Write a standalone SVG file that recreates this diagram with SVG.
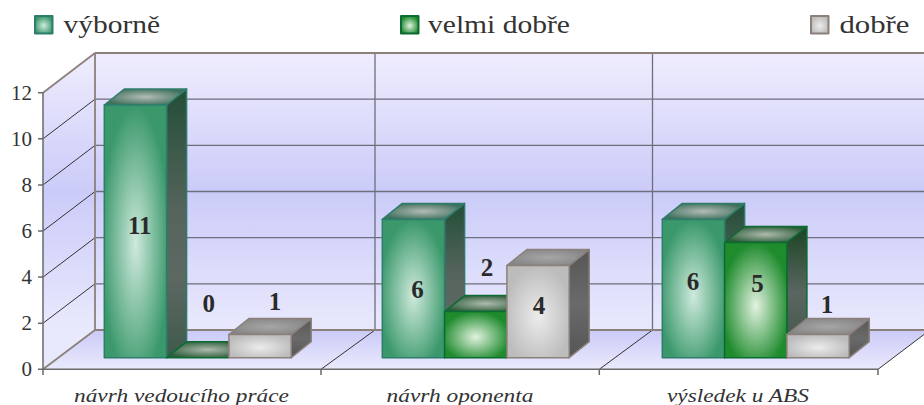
<svg xmlns="http://www.w3.org/2000/svg" width="924" height="405" viewBox="0 0 924 405">
<defs>
<linearGradient id="wallG" gradientUnits="userSpaceOnUse" x1="0" y1="53" x2="0" y2="330">
<stop offset="0" stop-color="#EFEDFD"/><stop offset="0.5" stop-color="#CBCBF9"/><stop offset="1" stop-color="#E9E9FD"/>
</linearGradient>
<linearGradient id="floorG" gradientUnits="userSpaceOnUse" x1="0" y1="330" x2="0" y2="369.3">
<stop offset="0" stop-color="#CACAF7"/><stop offset="1" stop-color="#EAEAFD"/>
</linearGradient>
<radialGradient id="g1F" cx="0.5" cy="0.55" r="0.55"><stop offset="0" stop-color="#CFEADD"/><stop offset="1" stop-color="#3A986B"/></radialGradient>
<radialGradient id="g1T" cx="0.5" cy="0.5" r="0.55"><stop offset="0" stop-color="#B4BCB6"/><stop offset="1" stop-color="#3E705C"/></radialGradient>
<linearGradient id="g1S" x1="0" y1="0" x2="0" y2="1"><stop offset="0" stop-color="#234E37"/><stop offset="0.45" stop-color="#55645C"/><stop offset="0.7" stop-color="#5C6862"/><stop offset="1" stop-color="#3F5A4C"/></linearGradient>
<radialGradient id="g2F" cx="0.5" cy="0.55" r="0.55"><stop offset="0" stop-color="#E2F2E0"/><stop offset="1" stop-color="#1E8B2D"/></radialGradient>
<radialGradient id="g2T" cx="0.5" cy="0.5" r="0.55"><stop offset="0" stop-color="#AEBAAE"/><stop offset="1" stop-color="#2D5E3A"/></radialGradient>
<linearGradient id="g2S" x1="0" y1="0" x2="0" y2="1"><stop offset="0" stop-color="#1B4424"/><stop offset="0.5" stop-color="#5A6660"/><stop offset="1" stop-color="#3E5646"/></linearGradient>
<radialGradient id="g3F" cx="0.5" cy="0.55" r="0.55"><stop offset="0" stop-color="#ECECEC"/><stop offset="1" stop-color="#BCBCBC"/></radialGradient>
<radialGradient id="g3T" cx="0.5" cy="0.5" r="0.55"><stop offset="0" stop-color="#A6A6A6"/><stop offset="1" stop-color="#868686"/></radialGradient>
<linearGradient id="g3S" x1="0" y1="0" x2="0" y2="1"><stop offset="0" stop-color="#575757"/><stop offset="0.5" stop-color="#6A6A6A"/><stop offset="1" stop-color="#555555"/></linearGradient>
</defs>
<style>
.edge{stroke:#8C807B;stroke-width:1.8;fill:none}
.grid{stroke:#6E6E7C;stroke-width:1.3;fill:none}
.diag{stroke:#333;stroke-width:1;fill:none}
.axis{stroke:#6A6A6A;stroke-width:1.5;fill:none}
.s1{stroke:#2E7D6C;stroke-width:1.5;stroke-linejoin:round}
.s2{stroke:#0C6A33;stroke-width:1.5;stroke-linejoin:round}
.s3{stroke:#8C807B;stroke-width:1.5;stroke-linejoin:round}
text{font-family:"Liberation Serif","DejaVu Serif","Times New Roman",serif}
.tick{font-size:21px;fill:#333;text-anchor:end}
.cat{font-style:italic;font-size:18px;fill:#333;text-anchor:middle}
.val{font-weight:bold;font-size:25px;fill:#2A2A2A;text-anchor:middle}
.leg{font-size:26px;fill:#333}
</style>
<rect width="924" height="405" fill="#FFFFFF"/>

<g id="walls">
<polygon points="43,92.7 95,53 95,330 43,369.3" fill="url(#wallG)"/>
<rect x="95" y="53" width="829" height="277" fill="url(#wallG)"/>
<polygon points="43,369.3 95,330 924,330 924,334.5 878,369.3" fill="url(#floorG)"/>
</g>

<g id="grid">
<path class="grid" d="M95,99.2H924M95,145.4H924M95,191.5H924M95,237.7H924M95,283.8H924M375,53V330M652.5,53V330"/>
<path class="diag" d="M43,138.8L95,99.2M43,184.9L95,145.4M43,231L95,191.5M43,277.1L95,237.7M43,323.2L95,283.8"/>
<path class="diag" d="M321,369.3L375,330M599.3,369.3L652.5,330M878,369.3L924,334.5"/>
<path class="edge" d="M95,53H924M95,53V330H924M43,92.7L95,53M43,369.3L95,330"/>
<path class="axis" d="M43,92.7V369.3H878M38,92.7H43M38,138.8H43M38,184.9H43M38,231H43M38,277.1H43M38,323.2H43M38,369.3H43M43,369.3V375M321,369.3V375M599.3,369.3V375M878,369.3V375"/>
</g>

<g id="yaxis-labels">
<text class="tick" x="32" y="99.7">12</text>
<text class="tick" x="32" y="145.8">10</text>
<text class="tick" x="32" y="191.9">8</text>
<text class="tick" x="32" y="238">6</text>
<text class="tick" x="32" y="284.1">4</text>
<text class="tick" x="32" y="330.2">2</text>
<text class="tick" x="32" y="376.3">0</text>
</g>

<g id="cat1">
<polygon class="s1" fill="url(#g1S)" points="166.6,105 186.6,89 186.6,341.7 166.6,357.7"/>
<polygon class="s1" fill="url(#g1T)" points="104.3,105 124.3,89 186.6,89 166.6,105"/>
<rect class="s1" fill="url(#g1F)" x="104.3" y="105" width="62.3" height="252.7"/>
<polygon class="s2" fill="url(#g2T)" points="166.6,357.7 186.6,341.7 248.9,341.7 228.9,357.7"/>
<polygon class="s3" fill="url(#g3S)" points="291.2,334.6 311.2,318.6 311.2,341.7 291.2,357.7"/>
<polygon class="s3" fill="url(#g3T)" points="228.9,334.6 248.9,318.6 311.2,318.6 291.2,334.6"/>
<rect class="s3" fill="url(#g3F)" x="228.9" y="334.6" width="62.3" height="23.1"/>
<text class="val" x="139.7" y="234">11</text>
<text class="val" x="208.8" y="312">0</text>
<text class="val" x="275" y="310">1</text>
</g>

<g id="cat2">
<polygon class="s1" fill="url(#g1S)" points="444.6,219.4 464.6,203.4 464.6,341.7 444.6,357.7"/>
<polygon class="s1" fill="url(#g1T)" points="382.3,219.4 402.3,203.4 464.6,203.4 444.6,219.4"/>
<rect class="s1" fill="url(#g1F)" x="382.3" y="219.4" width="62.3" height="138.3"/>
<polygon class="s2" fill="url(#g2S)" points="506.9,311.6 526.9,295.6 526.9,341.7 506.9,357.7"/>
<polygon class="s2" fill="url(#g2T)" points="444.6,311.6 464.6,295.6 526.9,295.6 506.9,311.6"/>
<rect class="s2" fill="url(#g2F)" x="444.6" y="311.6" width="62.3" height="46.1"/>
<polygon class="s3" fill="url(#g3S)" points="569.2,265.5 589.2,249.5 589.2,341.7 569.2,357.7"/>
<polygon class="s3" fill="url(#g3T)" points="506.9,265.5 526.9,249.5 589.2,249.5 569.2,265.5"/>
<rect class="s3" fill="url(#g3F)" x="506.9" y="265.5" width="62.3" height="92.2"/>
<text class="val" x="417.5" y="298">6</text>
<text class="val" x="487" y="276">2</text>
<text class="val" x="539" y="314">4</text>
</g>

<g id="cat3">
<polygon class="s1" fill="url(#g1S)" points="724.6,219.4 744.6,203.4 744.6,341.7 724.6,357.7"/>
<polygon class="s1" fill="url(#g1T)" points="662.3,219.4 682.3,203.4 744.6,203.4 724.6,219.4"/>
<rect class="s1" fill="url(#g1F)" x="662.3" y="219.4" width="62.3" height="138.3"/>
<polygon class="s2" fill="url(#g2S)" points="786.9,242.5 806.9,226.5 806.9,341.7 786.9,357.7"/>
<polygon class="s2" fill="url(#g2T)" points="724.6,242.5 744.6,226.5 806.9,226.5 786.9,242.5"/>
<rect class="s2" fill="url(#g2F)" x="724.6" y="242.5" width="62.3" height="115.2"/>
<polygon class="s3" fill="url(#g3S)" points="849.2,334.6 869.2,318.6 869.2,341.7 849.2,357.7"/>
<polygon class="s3" fill="url(#g3T)" points="786.9,334.6 806.9,318.6 869.2,318.6 849.2,334.6"/>
<rect class="s3" fill="url(#g3F)" x="786.9" y="334.6" width="62.3" height="23.1"/>
<text class="val" x="693" y="290">6</text>
<text class="val" x="757.5" y="292">5</text>
<text class="val" x="827" y="313">1</text>
</g>

<g id="category-labels">
<text class="cat" x="181.5" y="401.5" textLength="215" lengthAdjust="spacingAndGlyphs">návrh vedoucího práce</text>
<text class="cat" x="460" y="401.5" textLength="147" lengthAdjust="spacingAndGlyphs">návrh oponenta</text>
<text class="cat" x="738" y="401.5" textLength="142" lengthAdjust="spacingAndGlyphs">výsledek u ABS</text>
</g>

<g id="legend">
<rect class="s1" fill="url(#g1F)" x="35" y="16" width="17.5" height="17.5" style="stroke-width:2"/>
<text class="leg" x="63.5" y="33" textLength="96.5" lengthAdjust="spacingAndGlyphs">výborně</text>
<rect class="s2" fill="url(#g2F)" x="401" y="16" width="17.5" height="17.5" style="stroke-width:2"/>
<text class="leg" x="428" y="33" textLength="142" lengthAdjust="spacingAndGlyphs">velmi dobře</text>
<rect class="s3" fill="url(#g3F)" x="811" y="16" width="17.5" height="17.5" style="stroke-width:2"/>
<text class="leg" x="839.5" y="33" textLength="70" lengthAdjust="spacingAndGlyphs">dobře</text>
</g>
</svg>
